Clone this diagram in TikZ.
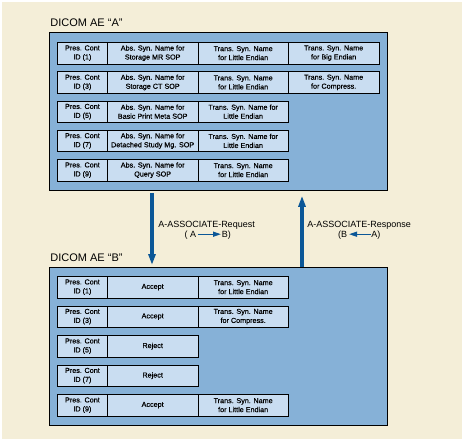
\documentclass[tikz,border=0pt]{standalone}
\usepackage{fontspec}
\setmainfont{Liberation Sans}
\newfontfamily\cellfont[FakeBold=0.5]{Liberation Sans}
\usetikzlibrary{arrows.meta}
\definecolor{paper}{HTML}{F4EED8}
\definecolor{aeblue}{HTML}{86B1D7}
\definecolor{cellblue}{HTML}{C9DDF1}
\definecolor{flowblue}{HTML}{0B5797}

\begin{document}
\begin{tikzpicture}
[x=1pt, y=-1pt, line width=0.8pt,
ae/.style={rectangle, draw, fill=aeblue, anchor=north west, inner sep=0pt, minimum width=338pt, minimum height=158pt},
cell/.style={rectangle, draw, fill=cellblue, anchor=north west, inner sep=0pt, minimum height=21.5pt, align=center, font=\cellfont\fontsize{7.2}{9}\selectfont},
pcid/.style={cell, minimum width=50pt},
syn/.style={cell, minimum width=90.5pt},
title/.style={anchor=base west, inner sep=0pt, font=\fontsize{11}{13}\selectfont},
lbl/.style={inner sep=0pt, font=\fontsize{9}{11}\selectfont},
flow/.style={draw=flowblue, line width=3.5pt, -{Triangle[width=7pt,length=11pt]}},
mini/.style={draw=flowblue, line width=1.4pt, -{Triangle[width=5pt,length=8pt]}}]

\fill[white] (0,0) rectangle (465,442);
\fill[paper] (2,2) rectangle (462,439);
\useasboundingbox (0,0) rectangle (465,442);

% requesting entity
\node[title] (titleA) at (50,26.7) {DICOM AE “A”};
\node[ae] (aeA) at (49,32) {};

\node[pcid] (a11) at (57,42) {Pres. Cont\\ID (1)};
\node[syn] (a12) at (107,42) {Abs. Syn. Name for\\Storage MR SOP};
\node[syn] (a13) at (197.5,42) {Trans. Syn. Name\\for Little Endian};
\node[syn] (a14) at (288,42) {Trans. Syn. Name\\for Big Endian};

\node[pcid] (a21) at (57,71.25) {Pres. Cont\\ID (3)};
\node[syn] (a22) at (107,71.25) {Abs. Syn. Name for\\Storage CT SOP};
\node[syn] (a23) at (197.5,71.25) {Trans. Syn. Name\\for Little Endian};
\node[syn] (a24) at (288,71.25) {Trans. Syn. Name\\for Compress.};

\node[pcid] (a31) at (57,100.5) {Pres. Cont\\ID (5)};
\node[syn] (a32) at (107,100.5) {Abs. Syn. Name for\\Basic Print Meta SOP};
\node[syn] (a33) at (197.5,100.5) {Trans. Syn. Name for\\Little Endian};

\node[pcid] (a41) at (57,129.75) {Pres. Cont\\ID (7)};
\node[syn] (a42) at (107,129.75) {Abs. Syn. Name for\\Detached Study Mg. SOP};
\node[syn] (a43) at (197.5,129.75) {Trans. Syn. Name for\\Little Endian};

\node[pcid] (a51) at (57,159) {Pres. Cont\\ID (9)};
\node[syn] (a52) at (107,159) {Abs. Syn. Name for\\Query SOP};
\node[syn] (a53) at (197.5,159) {Trans. Syn. Name\\for Little Endian};

% accepting entity
\node[title] (titleB) at (50,261) {DICOM AE “B”};
\node[ae] (aeB) at (49,267) {};

\node[pcid] (b11) at (57,276) {Pres. Cont\\ID (1)};
\node[syn] (b12) at (107,276) {Accept};
\node[syn] (b13) at (197.5,276) {Trans. Syn. Name\\for Little Endian};

\node[pcid] (b21) at (57,305.5) {Pres. Cont\\ID (3)};
\node[syn] (b22) at (107,305.5) {Accept};
\node[syn] (b23) at (197.5,305.5) {Trans. Syn. Name\\for Compress.};

\node[pcid] (b31) at (57,335) {Pres. Cont\\ID (5)};
\node[syn] (b32) at (107,335) {Reject};

\node[pcid] (b41) at (57,364.5) {Pres. Cont\\ID (7)};
\node[syn] (b42) at (107,364.5) {Reject};

\node[pcid] (b51) at (57,394) {Pres. Cont\\ID (9)};
\node[syn] (b52) at (107,394) {Accept};
\node[syn] (b53) at (197.5,394) {Trans. Syn. Name\\for Little Endian};

% association messages
\coordinate (req) at (152,0);
\coordinate (rsp) at (302,0);
\draw[flow, shorten <=2pt, shorten >=2pt] (req |- aeA.south) -- (req |- aeB.north);
\draw[flow, shorten >=5pt] (rsp |- aeB.north) -- (rsp |- aeA.south);

\node[lbl, anchor=base west] (reqtxt) at (158,227.3) {A-ASSOCIATE-Request};
\node[lbl, anchor=base east] (reqA) at (196.5,237.7) {( A};
\node[lbl, anchor=base west] (reqB) at (221.5,237.7) {B)};
\draw[mini] ([xshift=1.5pt, yshift=3.5pt]reqA.base east) -- ([xshift=-0.5pt, yshift=3.5pt]reqB.base west);

\node[lbl, anchor=base west] (rsptxt) at (307,227.3) {A-ASSOCIATE-Response};
\node[lbl, anchor=base east] (rspB) at (347.5,237.7) {(B};
\node[lbl, anchor=base west] (rspA) at (371,237.7) {A)};
\draw[mini] ([xshift=-0.5pt, yshift=3.5pt]rspA.base west) -- ([xshift=1.5pt, yshift=3.5pt]rspB.base east);
\end{tikzpicture}
\end{document}
